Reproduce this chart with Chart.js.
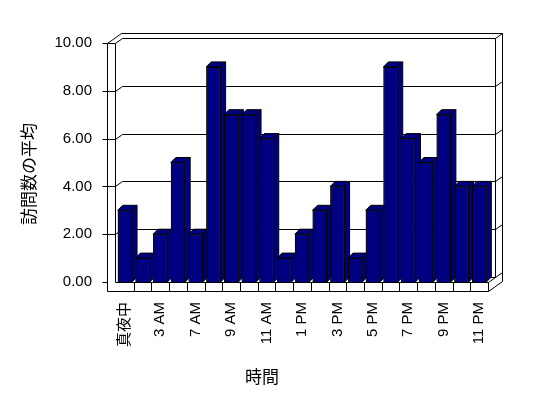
<!DOCTYPE html>
<html lang="ja">
<head>
<meta charset="utf-8">
<title>訪問数の平均</title>
<script src="https://cdn.jsdelivr.net/npm/chart.js@4.4.0/dist/chart.umd.min.js"></script>
<style>
  body { margin: 0; background: #fff; }
</style>
</head>
<body>
<canvas id="hourChart" width="548" height="398"></canvas>
<script>
// hours (only every other label is shown, as in the original)
var hourLabels = ['真夜中', '2 AM', '3 AM', '5 AM', '7 AM', '8 AM', '9 AM', '10 AM', '11 AM', '正午',
                  '1 PM', '2 PM', '3 PM', '4 PM', '5 PM', '6 PM', '7 PM', '8 PM', '9 PM', '10 PM', '11 PM'];
var visitAvg = [3, 1, 2, 5, 2, 9, 7, 7, 6, 1, 2, 3, 4, 1, 3, 9, 6, 5, 7, 4, 4];
var gridValues = [0, 2, 4, 6, 8, 10];
var xTitle = '時間';
var yTitle = '訪問数の平均';

var FONT = "'Liberation Sans', 'Noto Sans CJK JP', sans-serif";
var NAVY = '#000080';

function seg(ctx, x1, y1, x2, y2) {
  ctx.moveTo(Math.round(x1) + 0.5, Math.round(y1) + 0.5);
  ctx.lineTo(Math.round(x2) + 0.5, Math.round(y2) + 0.5);
}

// back wall, side wall and floor of the excel-like 3d box
var wallsPlugin = {
  id: 'walls',
  beforeDatasetsDraw: function(chart) {
    var ctx = chart.ctx, a = chart.chartArea, ys = chart.scales.y, xs = chart.scales.x;
    var L = a.left - 1, R = a.right, B = a.bottom, T = ys.getPixelForValue(10);
    var dx = 7, dy = -5, sx = 8, sy = 9;
    ctx.save();
    ctx.strokeStyle = '#000';
    ctx.lineWidth = 1;
    ctx.beginPath();
    // left slab
    seg(ctx, L - sx, T, L - sx, B + sy);
    seg(ctx, L, T, L, B);
    seg(ctx, L - sx, T, L, T);
    seg(ctx, L - sx, T, L - sx + 2 * dx, T + 2 * dy);
    seg(ctx, L, T, L + dx, T + dy);
    // back wall
    seg(ctx, L - sx + 2 * dx, T + 2 * dy, R + 2 * dx, T + 2 * dy);
    seg(ctx, L + dx, T + dy, R + dx, T + dy);
    seg(ctx, R + dx, T + dy, R + 2 * dx, T + 2 * dy);
    seg(ctx, R + dx, T + dy, R + dx, B + dy);
    seg(ctx, R + 2 * dx, T + 2 * dy, R + 2 * dx, B + sy + 2 * dy);
    seg(ctx, L + dx, B + dy, R + dx, B + dy);
    seg(ctx, R + dx, B + dy, R + 2 * dx, B + 2 * dy);
    // floor
    seg(ctx, L, B, R, B);
    seg(ctx, L - sx, B + sy, R, B + sy);
    seg(ctx, R, B, R, B + sy);
    seg(ctx, R, B, R + dx, B + dy);
    seg(ctx, R, B + sy, R + 2 * dx, B + sy + 2 * dy);
    var pitch = (a.right - a.left) / hourLabels.length;
    for (var i = 1; i < hourLabels.length; i++) {
      var xb = xs.getPixelForValue(i) - pitch / 2;
      seg(ctx, xb, B, xb, B + sy);
    }
    // grid lines
    gridValues.forEach(function(v) {
      var yv = ys.getPixelForValue(v);
      if (v === 0 || v === 10) {
        seg(ctx, L - sx - 5, yv, L - sx, yv);
        return;
      }
      seg(ctx, L - sx - 5, yv, L, yv);
      seg(ctx, L, yv, L + dx, yv + dy);
      seg(ctx, L + dx, yv + dy, R + dx, yv + dy);
      seg(ctx, R + dx, yv + dy, R + 2 * dx, yv + 2 * dy);
    });
    ctx.stroke();
    ctx.restore();
  }
};

// side and top faces for each bar, then the front again so neighbours overlap right
var barDepthPlugin = {
  id: 'barDepth',
  afterDatasetsDraw: function(chart) {
    var ctx = chart.ctx;
    var bx = 5, by = -5;
    var meta = chart.getDatasetMeta(0);
    ctx.save();
    meta.data.forEach(function(bar) {
      var p = bar.getProps(['x', 'y', 'base', 'width'], true);
      var l = p.x - p.width / 2, r = p.x + p.width / 2, t = p.y, b = p.base;
      ctx.fillStyle = NAVY;
      ctx.strokeStyle = '#000';
      ctx.lineWidth = 1;
      ctx.beginPath();
      ctx.moveTo(r, t); ctx.lineTo(r + bx, t + by); ctx.lineTo(r + bx, b + by); ctx.lineTo(r, b);
      ctx.closePath();
      ctx.fill(); ctx.stroke();
      ctx.beginPath();
      ctx.moveTo(l, t); ctx.lineTo(l + bx, t + by); ctx.lineTo(r + bx, t + by); ctx.lineTo(r, t);
      ctx.closePath();
      ctx.fill(); ctx.stroke();
      bar.draw(ctx);
    });
    ctx.restore();
  }
};

var titlesPlugin = {
  id: 'titles',
  afterDraw: function(chart) {
    var ctx = chart.ctx;
    ctx.save();
    ctx.fillStyle = '#000';
    ctx.font = "17px 'Noto Sans CJK JP', sans-serif";
    ctx.textAlign = 'center';
    ctx.textBaseline = 'middle';
    ctx.fillText(xTitle, 262, 377);
    ctx.translate(29, 174);
    ctx.rotate(-Math.PI / 2);
    ctx.fillText(yTitle, 0, 0);
    ctx.restore();
  }
};

new Chart(document.getElementById('hourChart'), {
  type: 'bar',
  data: {
    labels: hourLabels,
    datasets: [{
      data: visitAvg,
      backgroundColor: NAVY,
      borderColor: '#000',
      borderWidth: 1,
      barPercentage: 0.81,
      categoryPercentage: 1.0
    }]
  },
  options: {
    responsive: false,
    animation: false,
    events: [],
    layout: { padding: { top: 43, right: 60, left: 0, bottom: 0 } },
    plugins: {
      legend: { display: false },
      tooltip: { enabled: false }
    },
    scales: {
      x: {
        grid: { display: false, drawTicks: false },
        border: { display: false },
        afterFit: function(scale) { scale.height = 116; },
        ticks: {
          autoSkip: false,
          maxRotation: 90,
          minRotation: 90,
          padding: 20,
          color: '#000',
          font: { family: FONT, size: 15 },
          callback: function(value, index) {
            return index % 2 === 0 ? hourLabels[index] : '';
          }
        }
      },
      y: {
        min: 0,
        max: 10,
        grid: { display: false, drawTicks: false },
        border: { display: false },
        afterFit: function(scale) { scale.width = 116; },
        ticks: {
          stepSize: 2,
          padding: 24,
          color: '#000',
          font: { family: FONT, size: 15 },
          callback: function(v) { return v.toFixed(2); }
        }
      }
    }
  },
  plugins: [wallsPlugin, barDepthPlugin, titlesPlugin]
});
</script>
</body>
</html>
